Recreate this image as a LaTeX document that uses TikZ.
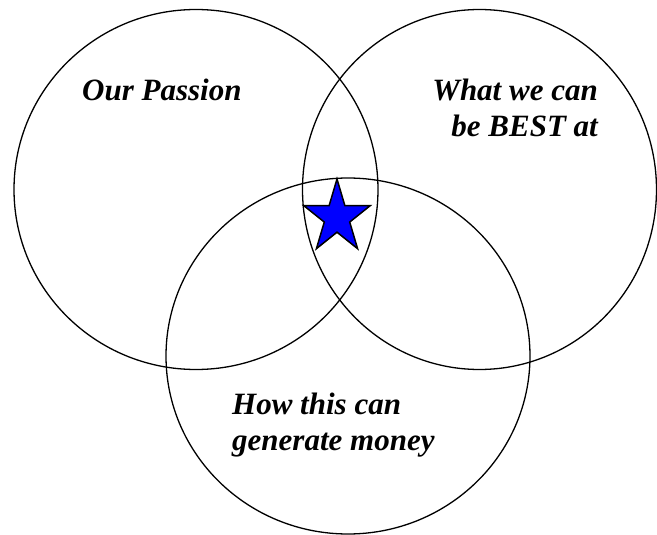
\documentclass[tikz,border=0pt]{standalone}
\usepackage{fontspec}
\setmainfont{Liberation Serif}
\usetikzlibrary{shapes.geometric}

\begin{document}
\begin{tikzpicture}[x=1pt, y=-1pt,
    every node/.style={font=\fontsize{31}{36}\selectfont\bfseries\itshape, inner sep=0pt},
    ring/.style={draw, ellipse, line width=1.3pt}]
    \useasboundingbox (0,0) rectangle (657,535);

    % Circles
    \node[ring, minimum width=364pt, minimum height=360pt] (passion) at (196,189.5) {};
    \node[ring, minimum width=354pt, minimum height=360pt] (best) at (479.5,189.5) {};
    \node[ring, minimum width=364pt, minimum height=356pt] (money) at (348,356) {};

    % Labels
    \node[anchor=base west] (passionlbl) at (82,100.6) {Our Passion};
    \node[anchor=base east, align=right] (bestlbl) at (598,136.5) {What we can\\be BEST at};
    \node[anchor=base west, align=left] (moneylbl) at (232,450) {How this can\\generate money};

    % Star
    \node[draw, star, star points=5, star point ratio=2.618, minimum size=70pt,
          fill=blue, line width=1.5pt, yscale=1.1] (goal) at (337,217.5) {};
\end{tikzpicture}
\end{document}
